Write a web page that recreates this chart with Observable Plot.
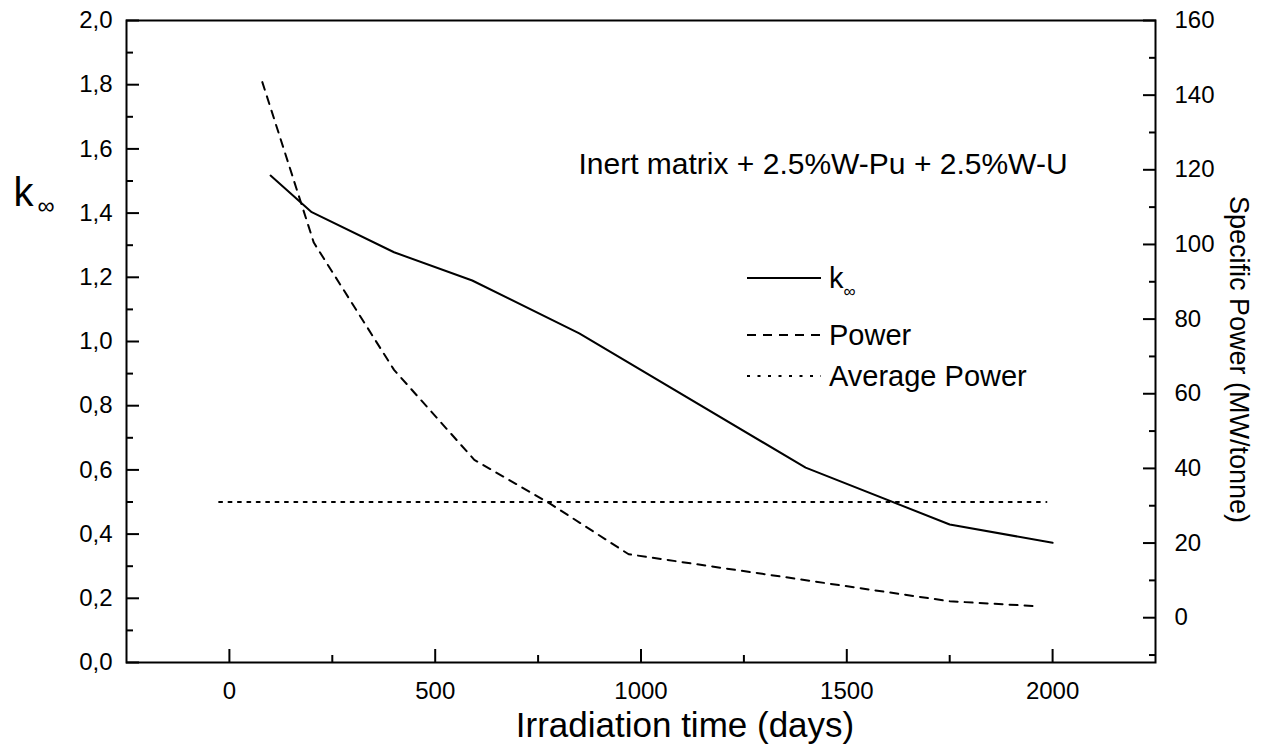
<!DOCTYPE html>
<html>
<head>
<meta charset="utf-8">
<script src="https://cdn.jsdelivr.net/npm/d3@7"></script>
<script src="https://cdn.jsdelivr.net/npm/@observablehq/plot@0.6"></script>
<style>
  html, body { margin: 0; padding: 0; background: #fff; }
  #chart svg { display: block; }
</style>
</head>
<body>
<div id="chart"></div>
<script>
// ---- data ----
const kDays      = [100, 200, 400, 590, 850, 1400, 1750, 2000];
const kValues    = [1.517, 1.403, 1.278, 1.19, 1.025, 0.607, 0.43, 0.373];

const powerDays   = [80, 205, 400, 595, 780, 970, 1750, 1960];
const powerValues = [143.5, 100.5, 66.4, 42.3, 30.5, 17.0, 4.4, 3.1];

const avgPowerDays  = [-25, 1985];
const avgPowerValue = 31;

const xTicks          = [0, 500, 1000, 1500, 2000];
const xMinorTicks     = [250, 750, 1250, 1750];
const kTicks          = [0, 0.2, 0.4, 0.6, 0.8, 1.0, 1.2, 1.4, 1.6, 1.8, 2.0];
const kMinorTicks     = [0.1, 0.3, 0.5, 0.7, 0.9, 1.1, 1.3, 1.5, 1.7, 1.9];
const powerTicks      = [0, 20, 40, 60, 80, 100, 120, 140, 160];
const powerMinorTicks = [-10, 10, 30, 50, 70, 90, 110, 130, 150];

const xTitle     = "Irradiation time (days)";
const rightTitle = "Specific Power (MW/tonne)";
const annotation = "Inert matrix + 2.5%W-Pu + 2.5%W-U";
const legendItems = [
  {label: "k", sub: "\u221E", dash: null},
  {label: "Power", sub: "", dash: "9,7"},
  {label: "Average Power", sub: "", dash: "3,7.5"}
];

// ---- scale settings ----
const xDomain = [-250, 2250];
const kDomain = [0, 2];
const powerDomain = [-12, 160];
const toK = d3.scaleLinear().domain(powerDomain).range(kDomain);

const kRows = kDays.map((d, i) => ({day: d, k: kValues[i]}));
const powerRows = powerDays.map((d, i) => ({day: d, power: powerValues[i]}));
const avgRows = avgPowerDays.map(d => ({day: d, power: avgPowerValue}));

const font = "'Liberation Sans', Arial, Helvetica, sans-serif";
const fmtK = d => d.toFixed(1).replace(".", ",");

const chart = Plot.plot({
  width: 1263,
  height: 753,
  marginTop: 20,
  marginLeft: 126,
  marginRight: 108,
  marginBottom: 91,
  style: {fontFamily: font, background: "#fff", color: "#000", overflow: "visible"},
  x: {domain: xDomain},
  y: {domain: kDomain},
  marks: [
    Plot.frame({stroke: "#000", strokeWidth: 2}),
    // inward tick marks
    Plot.axisX({ticks: xTicks, tickSize: -13, strokeWidth: 2, fill: "none", label: null}),
    Plot.axisX({ticks: xMinorTicks, tickSize: -7, strokeWidth: 2, fill: "none", label: null}),
    Plot.axisY({ticks: kTicks, tickSize: -13, strokeWidth: 2, fill: "none", label: null}),
    Plot.axisY({ticks: kMinorTicks, tickSize: -7, strokeWidth: 2, fill: "none", label: null}),
    Plot.axisY({anchor: "right", ticks: powerTicks.map(p => toK(p)), tickSize: -13, strokeWidth: 2, fill: "none", label: null}),
    Plot.axisY({anchor: "right", ticks: powerMinorTicks.map(p => toK(p)), tickSize: -7, strokeWidth: 2, fill: "none", label: null}),
    // tick labels
    Plot.axisX({ticks: xTicks, tickSize: 0, tickPadding: 19, fontSize: 24, tickFormat: d => String(d), label: null}),
    Plot.axisY({ticks: kTicks, tickSize: 0, tickPadding: 14, fontSize: 24, tickFormat: fmtK, label: null}),
    Plot.axisY({anchor: "right", ticks: powerTicks.map(p => toK(p)), tickSize: 0, tickPadding: 19, fontSize: 24,
                tickFormat: k => String(Math.round(toK.invert(k))), label: null}),
    // data
    Plot.line(avgRows, {x: "day", y: d => toK(d.power), stroke: "#000", strokeWidth: 2, strokeDasharray: "3,6.4"}),
    Plot.line(powerRows, {x: "day", y: d => toK(d.power), stroke: "#000", strokeWidth: 2, strokeDasharray: "8,7"}),
    Plot.line(kRows, {x: "day", y: "k", stroke: "#000", strokeWidth: 2}),
    // texts
    Plot.text([annotation], {text: d => d, frameAnchor: "top-left", dx: 452, dy: 132, textAnchor: "start", fontSize: 30, fill: "#000"}),
    Plot.text([xTitle], {text: d => d, frameAnchor: "bottom", textAnchor: "middle", dx: 44, dy: 74, fontSize: 35, fill: "#000"}),
    Plot.text([rightTitle], {text: d => d, frameAnchor: "right", textAnchor: "middle", dx: 83, dy: 18, rotate: 90, fontSize: 27, fill: "#000"}),
    Plot.text(["k"], {text: d => d, frameAnchor: "top-left", dx: -113, dy: 157, textAnchor: "start", fontSize: 40, fill: "#000"}),
    Plot.text(["\u221E"], {text: d => d, frameAnchor: "top-left", dx: -89, dy: 176, textAnchor: "start", fontSize: 24, fill: "#000"})
  ]
});

// ---- legend (inside the plot area) ----
const svg = d3.select(chart);
const lg = svg.append("g").attr("class", "legend")
  .attr("font-family", font).attr("fill", "#000").attr("text-anchor", "start");
const rowY = [278, 335, 376];
legendItems.forEach((it, i) => {
  const y = rowY[i];
  lg.append("line")
    .attr("x1", 747).attr("x2", 821).attr("y1", y).attr("y2", y)
    .attr("stroke", "#000").attr("stroke-width", 2)
    .attr("stroke-dasharray", it.dash);
  const t = lg.append("text").attr("x", 829).attr("y", y + 10)
    .attr("font-size", 29).attr("text-anchor", "start");
  t.append("tspan").text(it.label);
  if (it.sub) t.append("tspan").attr("dy", 9).attr("font-size", 17).text(it.sub);
});

document.getElementById("chart").appendChild(chart);
</script>
</body>
</html>
